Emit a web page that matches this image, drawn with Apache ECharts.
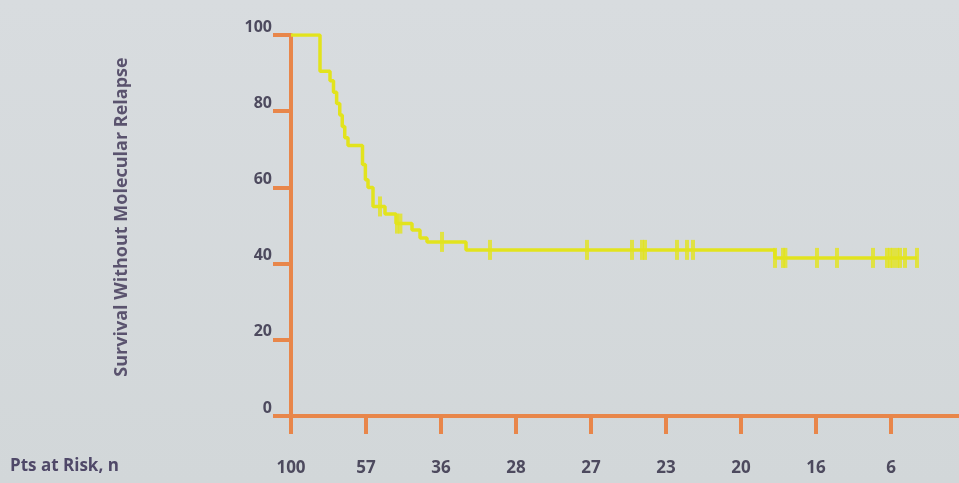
<!DOCTYPE html>
<html>
<head>
<meta charset="utf-8">
<script src="https://cdn.jsdelivr.net/npm/echarts@6/dist/echarts.min.js"></script>
<style>
  html, body { margin: 0; padding: 0; }
  #chart { width: 959px; height: 483px; }
</style>
</head>
<body>
<div id="chart"></div>
<script>
// Kaplan-Meier estimate: event times (months) and survival (%) after each step
const eventTimes = [0, 2.32, 3.12, 3.4, 3.65, 3.9, 4.1, 4.3, 4.56, 5.72, 5.95, 6.16, 6.56, 7.52, 8.4, 9.68, 10.32, 10.88, 14.0, 38.7];
const survival   = [100, 90.5, 88, 85, 82, 79, 76, 73, 71, 66, 62, 60, 55, 53, 50.5, 48.8, 46.7, 45.7, 43.6, 41.5];
const followUpEnd = 50.1;

// Censored observations (months)
const censorTimes = [7.12, 8.48, 8.75, 12.08, 15.92, 23.68, 27.28, 28.08, 28.32, 30.88, 31.68, 32.16,
                     38.72, 39.36, 39.55, 42.08, 43.68, 46.56, 47.68, 47.92, 48.16, 48.48, 48.72, 49.12, 50.08];

// Axis ticks (months) and number of patients at risk below each tick
const tickMonths = [0, 6, 12, 18, 24, 30, 36, 42, 48];
const atRisk     = [100, 57, 36, 28, 27, 23, 20, 16, 6];
const yTicks     = [0, 20, 40, 60, 80, 100];

const curve = eventTimes.map((t, i) => [t, survival[i]]);
curve.push([followUpEnd, survival[survival.length - 1]]);

function survivalAt(t) {
  let s = survival[0];
  for (let i = 0; i < eventTimes.length; i++) {
    if (eventTimes[i] <= t) s = survival[i];
  }
  return s;
}
const censors = censorTimes.map(t => [t, survivalAt(t)]);

const AXIS = '#e8864a';
const CURVE = '#e2e31d';
const TEXT = '#4d4a5e';
const FONT = '"Open Sans", Lato, sans-serif';

const chart = echarts.init(document.getElementById('chart'), null, { renderer: 'canvas' });
chart.setOption({
  animation: false,
  backgroundColor: {
    type: 'linear', x: 0, y: 0, x2: 0, y2: 1,
    colorStops: [{ offset: 0, color: '#d8dcdf' }, { offset: 1, color: '#d2d7d9' }]
  },
  grid: { left: 291, right: -7, top: 35, bottom: 67, outerBoundsMode: 'none', containLabel: false },
  xAxis: {
    type: 'value', min: 0, max: 54, interval: 6,
    splitLine: { show: false },
    axisLine: { show: true, lineStyle: { color: AXIS, width: 4 } },
    axisTick: { show: true, length: 18, lineStyle: { color: AXIS, width: 4 } },
    axisLabel: {
      margin: 44, color: TEXT, fontFamily: FONT, fontWeight: 'bold', fontSize: 17,
      formatter: v => {
        const i = tickMonths.indexOf(v);
        return i >= 0 ? String(atRisk[i]) : '';
      }
    }
  },
  yAxis: {
    type: 'value', min: 0, max: 100, interval: 20,
    splitLine: { show: false },
    axisLine: { show: true, lineStyle: { color: AXIS, width: 4 } },
    axisTick: { show: true, length: 18, lineStyle: { color: AXIS, width: 4 } },
    axisLabel: {
      margin: 19, color: TEXT, fontFamily: FONT, fontWeight: 'bold', fontSize: 16,
      verticalAlign: 'bottom', padding: [0, 0, 0, 0],
      formatter: v => yTicks.indexOf(v) >= 0 ? String(v) : ''
    }
  },
  graphic: [
    {
      type: 'text', left: 10, top: 458,
      style: { text: 'Pts at Risk, n', fill: '#4f4868', font: 'bold 17px ' + FONT }
    },
    {
      type: 'text', x: 122, y: 217, rotation: Math.PI / 2,
      style: {
        text: 'Survival Without Molecular Relapse', fill: '#5a536e',
        font: 'bold 18px ' + FONT, align: 'center', verticalAlign: 'middle'
      }
    }
  ],
  series: [
    {
      type: 'line', data: curve, step: 'end', showSymbol: false,
      lineStyle: { color: CURVE, width: 3.5 }, z: 3
    },
    {
      type: 'scatter', data: censors, symbol: 'rect', symbolSize: [4, 20],
      itemStyle: { color: CURVE }, z: 4
    }
  ]
});
</script>
</body>
</html>
